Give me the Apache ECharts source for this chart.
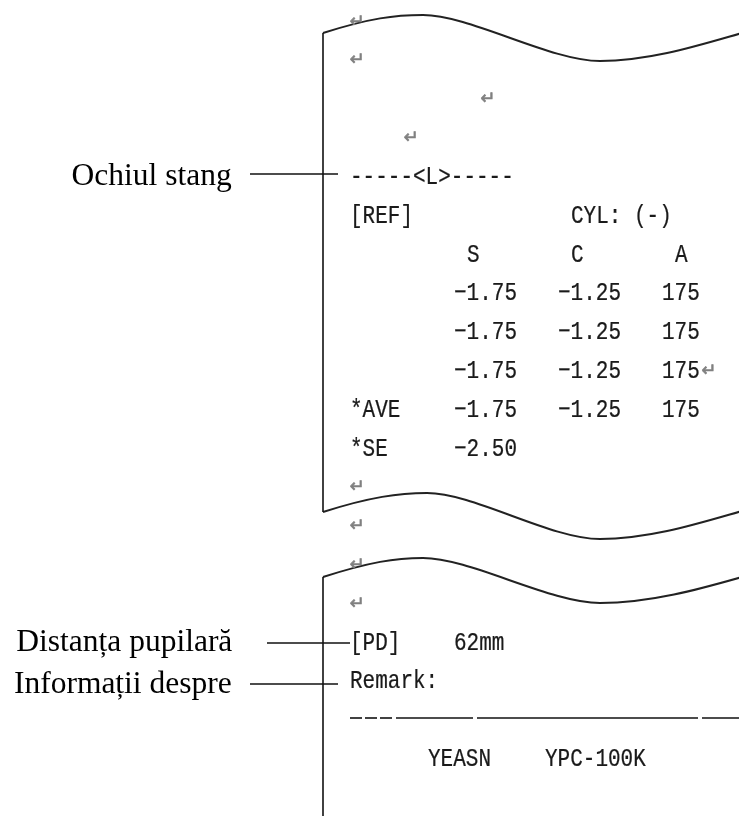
<!DOCTYPE html>
<html>
<head>
<meta charset="utf-8">
<title>Printout – left eye</title>
<script src="https://cdn.jsdelivr.net/npm/echarts@6/dist/echarts.min.js"></script>
<style>
  html, body { margin: 0; padding: 0; background: #fff; }
  #main { width: 739px; height: 816px; }
</style>
</head>
<body>
<div id="main"></div>
<script>
// printout content
const eyeTag = "L";
const refHeader = ["[REF]", "CYL: (-)"];
const columnNames = ["S", "C", "A"];
const readings = [
	[-1.75, -1.25, 175],
	[-1.75, -1.25, 175],
	[-1.75, -1.25, 175]
];
const average = [-1.75, -1.25, 175];
const sphericalEq = -2.50;
const pupilDistance = "62mm";
const remarkLabel = "Remark:";
const modelLine = ["YEASN", "YPC-100K"];
const notes = ["Ochiul stang", "Distanța pupilară", "Informații despre"];

// character grid of the printer: col = character, row = printed line
const COL_W = 13;
const ROW_H = 38.8;
const ORIGIN_X = 350;
const ORIGIN_Y = 22;

const MONO = "21px 'Liberation Mono', monospace";
const SERIF = "31.5px 'Liberation Serif', serif";
const ARROW = "18px 'DejaVu Sans', sans-serif";

// printer uses a long minus for negative numbers
const fmt = (v, i) => (i === 2 ? String(v) : v.toFixed(2).replace("-", "−"));

const items = [];
const put = (col, row, text, kind) => items.push({ col, row, text, kind: kind || "mono" });

// blank lines (return marks) printed above the block
put(0.55, 0, "↵", "arrow");
put(0.55, 1, "↵", "arrow");
put(10.6, 2, "↵", "arrow");
put(4.7, 3, "↵", "arrow");

put(0, 4, "-----<" + eyeTag + ">-----");
put(0, 5, refHeader[0]);
put(17, 5, refHeader[1]);
columnNames.forEach((c, i) => put(9 + i * 8, 6, c));
readings.forEach((r, k) => r.forEach((v, i) => put(8 + i * 8, 7 + k, fmt(v, i))));
put(27.6, 9, "↵", "arrow");
put(0, 10, "*AVE");
average.forEach((v, i) => put(8 + i * 8, 10, fmt(v, i)));
put(0, 11, "*SE");
put(8, 11, fmt(sphericalEq, 0));
put(0.55, 12, "↵", "arrow");
put(0.55, 13, "↵", "arrow");
put(0.55, 14, "↵", "arrow");
put(0.55, 15, "↵", "arrow");
put(0, 16, "[PD]");
put(8, 16, pupilDistance);
put(0, 17, remarkLabel);
put(6, 19, modelLine[0]);
put(15, 19, modelLine[1]);

// annotations on the left, right-aligned
put(-9.1, 4, notes[0], "note");
put(-9.05, 16, notes[1], "note");
put(-9.1, 17.08, notes[2], "note");

const chart = echarts.init(document.getElementById("main"));

const ink = "#1a1a1a";

const line = (x1, y1, x2, y2, w) => ({
	type: "line",
	silent: true,
	shape: { x1, y1, x2, y2 },
	style: { stroke: "#111", lineWidth: w || 1.6 }
});
const curve = (p) => ({
	type: "bezierCurve",
	silent: true,
	shape: { x1: p[0], y1: p[1], cpx1: p[2], cpy1: p[3], cpx2: p[4], cpy2: p[5], x2: p[6], y2: p[7] },
	style: { stroke: "#222", lineWidth: 2, fill: null }
});
// torn paper edge: peak at px, trough at tx, starting at y0 on the left
const wave = (y0, peakX, peakY, troughY, endY) => [
	curve([323, y0, 370, y0 - 15, peakX - 28, peakY, peakX, peakY]),
	curve([peakX, peakY, peakX + 47, peakY, 550, troughY, 600, troughY]),
	curve([600, troughY, 650, troughY, 700, endY + 12, 742, endY])
];

// the dashed rule under Remark
const ruleSegs = [[350, 362], [365, 377], [380, 392], [396, 473], [477, 698], [702, 739]];

const option = {
	animation: false,
	backgroundColor: "#fff",
	grid: { left: 0, right: 0, top: 0, bottom: 0 },
	xAxis: {
		type: "value",
		min: -ORIGIN_X / COL_W,
		max: (739 - ORIGIN_X) / COL_W,
		show: false
	},
	yAxis: {
		type: "value",
		inverse: true,
		min: -ORIGIN_Y / ROW_H,
		max: (816 - ORIGIN_Y) / ROW_H,
		show: false
	},
	graphic: []
		.concat(wave(33, 423, 15, 61, 33))
		.concat(wave(512, 427, 493, 539, 511))
		.concat(wave(577, 423, 558, 603, 577))
		.concat([
			line(323, 33, 323, 512),
			line(323, 577, 323, 816),
			line(250, 174, 338, 174),
			line(267, 643, 350, 643),
			line(250, 684, 338, 684)
		])
		.concat(ruleSegs.map(s => line(s[0], 718, s[1], 718, 1.6))),
	series: [
		{
			type: "custom",
			coordinateSystem: "cartesian2d",
			data: items.map(d => [d.col, d.row]),
			renderItem: function(params, api) {
				const d = items[params.dataIndex];
				const p = api.coord([api.value(0), api.value(1)]);
				if (d.kind === "arrow") {
					return {
						type: "text", x: p[0], y: p[1],
						style: { text: d.text, fill: "#808080", stroke: "#808080", lineWidth: 0.6, font: ARROW, align: "center", verticalAlign: "middle" }
					};
				}
				if (d.kind === "note") {
					return {
						type: "text", x: p[0], y: p[1],
						style: { text: d.text, fill: "#000", font: SERIF, align: "right", verticalAlign: "middle" }
					};
				}
				// tall narrow dot-matrix look
				return {
					type: "text", x: p[0], y: p[1], scaleY: 1.22,
					style: { text: d.text, fill: ink, stroke: ink, lineWidth: 0.2, font: MONO, align: "left", verticalAlign: "middle" }
				};
			}
		}
	]
};

option && chart.setOption(option);
</script>
</body>
</html>
